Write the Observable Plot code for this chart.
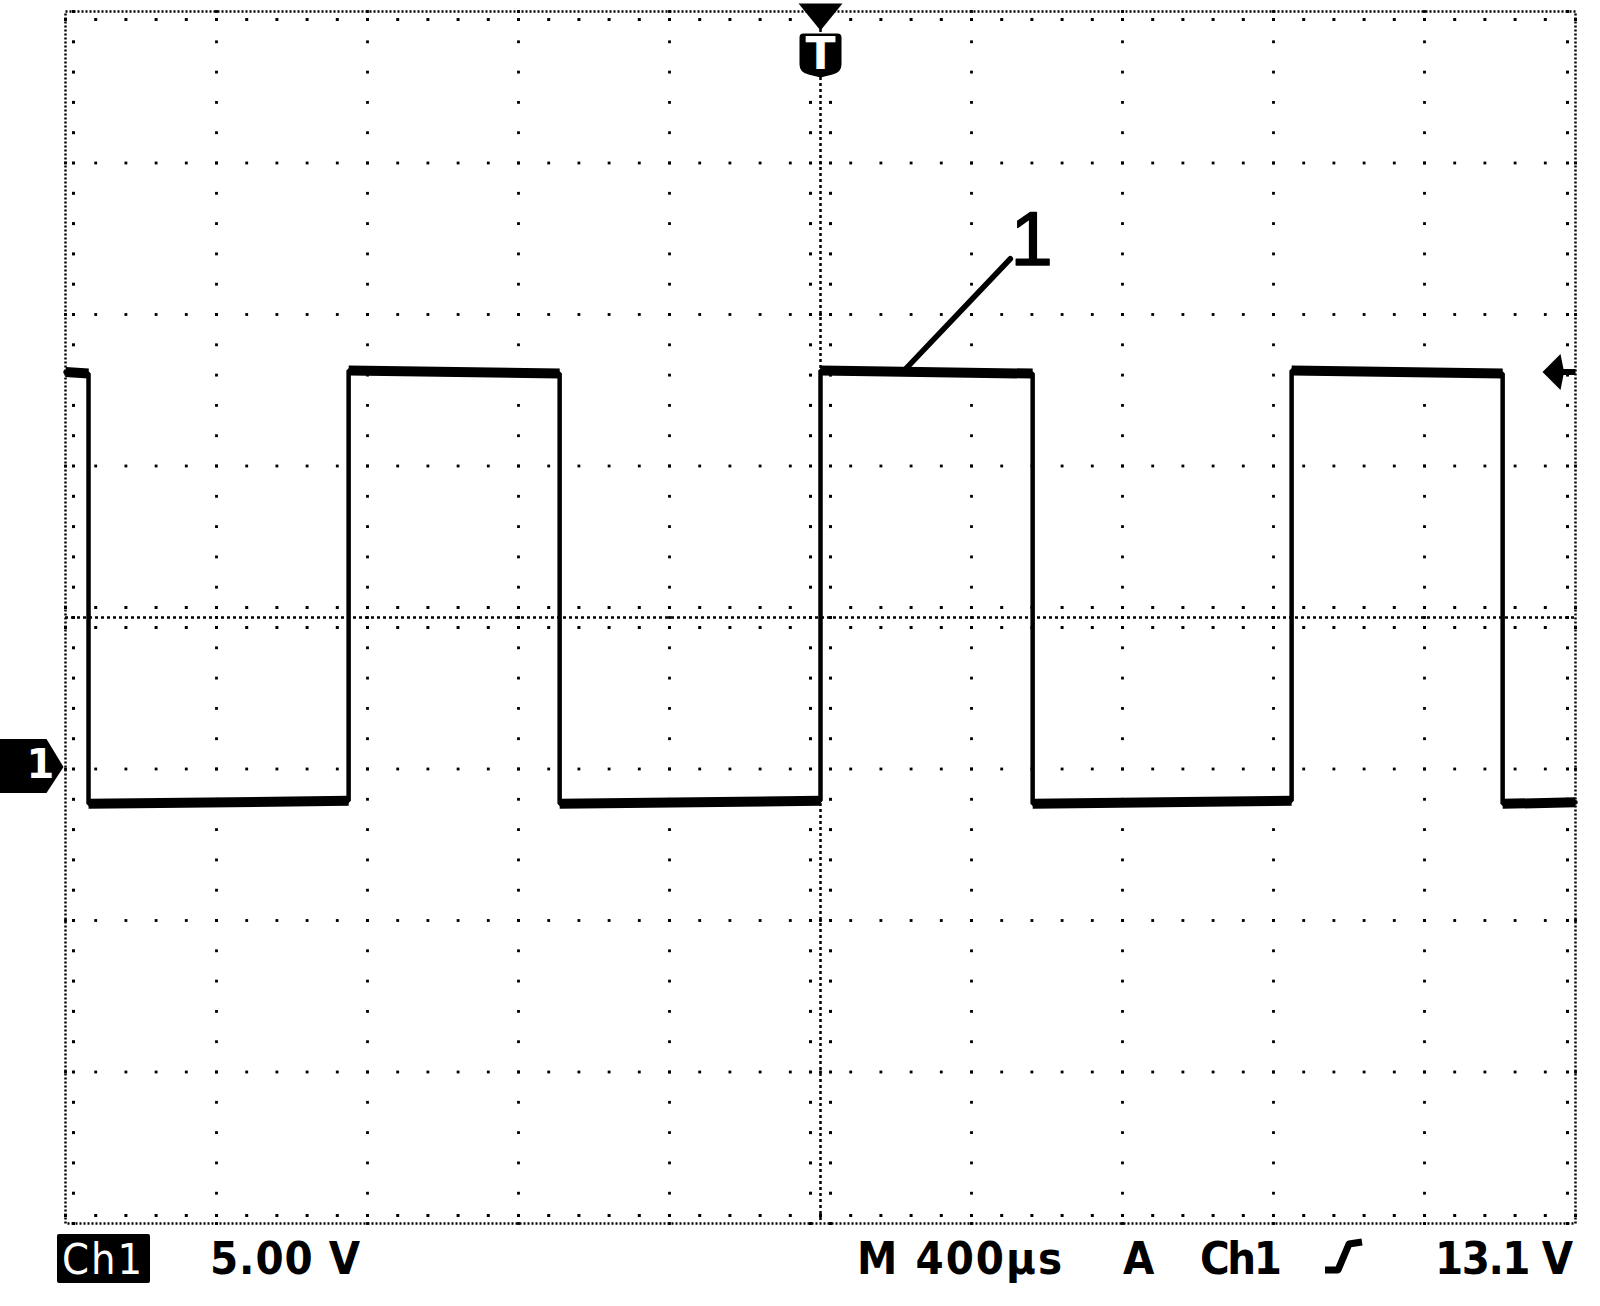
<!DOCTYPE html>
<html>
<head>
<meta charset="utf-8">
<script src="https://cdn.jsdelivr.net/npm/d3@7"></script>
<script src="https://cdn.jsdelivr.net/npm/@observablehq/plot@0.6"></script>
<style>
  html, body { margin: 0; padding: 0; background: #fff; }
  #wrap { position: relative; width: 1600px; height: 1306px; overflow: hidden; background: #fff; }
  #wrap svg { display: block; }
</style>
</head>
<body>
<div id="wrap"></div>
<script>
// ---- Data ----
// time in µs (400 µs/div, trigger at 0), voltage in V (5.00 V/div, ground marker at 0 V)
const traceT = [-2000, -1939, -1939, -1250, -1250, -691, -691, 0, 0, 562, 562, 1248, 1248, 1807, 1807, 2000];
const traceV = [13.1, 13.05, -1.15, -1.05, 13.15, 13.05, -1.15, -1.05, 13.15, 13.05, -1.15, -1.05, 13.15, 13.05, -1.15, -1.1];

const triggerLevel = [13.1];   // V
const triggerTime = [0];       // µs
const groundLevel = [0];       // V

// callout "1" with leader line
const calloutLabel = ["1"];
const calloutFromT = [225], calloutFromV = [13.2];
const calloutToT = [503], calloutToV = [16.84];
const calloutTextT = [559], calloutTextV = [17.44];

// status-bar texts
const statusTexts = ["5.00 V", "M 400µs", "A", "Ch1", "13.1 V"];
const channelLabel = "Ch1";

// ---- Scale structure ----
const xDomain = [-2000, 2000], yDomain = [-15, 25];
const xDiv = d3.range(-2000, 2001, 400);
const yDiv = d3.range(-15, 26, 5);
const xSub = d3.range(-2000, 2001, 80);
const ySub = d3.range(-15, 25.001, 1);
const xCenter = 0, yCenter = 5;

const trace = traceT.map((t, i) => ({t, v: traceV[i]}));
const levels = [];
for (let i = 0; i + 1 < trace.length; i += 2) levels.push({t0: trace[i].t, v0: trace[i].v, t1: trace[i + 1].t, v1: trace[i + 1].v});

const gridV = [];
for (const x of xDiv) if (x !== xDomain[0] && x !== xDomain[1] && x !== xCenter) for (const y of ySub) gridV.push({x, y});
const gridH = [];
for (const y of yDiv) if (y !== yDomain[0] && y !== yDomain[1] && y !== yCenter) for (const x of xSub) gridH.push({x, y});

const callout = calloutLabel.map((label, i) => ({
  label, t: calloutFromT[i], v: calloutFromV[i], t2: calloutToT[i], v2: calloutToV[i], tx: calloutTextT[i], vx: calloutTextV[i]
}));

// custom symbols (pixel shapes)
const pathSymbol = (cmds) => ({
  draw(ctx) { for (const c of cmds) { if (c[0] === "M") ctx.moveTo(c[1], c[2]); else if (c[0] === "L") ctx.lineTo(c[1], c[2]); else if (c[0] === "Q") ctx.quadraticCurveTo(c[1], c[2], c[3], c[4]); else if (c[0] === "Z") ctx.closePath(); } }
});
const downTriangle = pathSymbol([["M", -22, -8], ["L", 22, -8], ["L", 0, 19], ["Z"]]);
const shield = pathSymbol([["M", -21, 26], ["Q", -21, 22, -17, 22], ["L", 17, 22], ["Q", 21, 22, 21, 26], ["L", 21, 53], ["Q", 21, 61, 12, 63], ["L", 0, 66], ["L", -12, 63], ["Q", -21, 61, -21, 53], ["Z"]]);
const leftArrow = pathSymbol([["M", -33, 0], ["L", -15, -18], ["L", -12, -3], ["L", 0, -3], ["L", 0, 3], ["L", -12, 3], ["L", -15, 18], ["Z"]]);
const pentagon = pathSymbol([["M", -2, -2], ["L", -19, -30], ["L", -70, -30], ["L", -70, 24], ["L", -19, 24], ["Z"]]);

const plot = Plot.plot({
  width: 1600,
  height: 1230,
  marginLeft: 65,
  marginRight: 25,
  marginTop: 11,
  marginBottom: 7,
  x: {domain: xDomain, axis: null},
  y: {domain: yDomain, axis: null},
  style: {background: "white", overflow: "visible"},
  marks: [
    // grid dots
    Plot.dot(gridV, {x: "x", y: "y", r: 1.6, symbol: "square", fill: "black"}),
    Plot.dot(gridH, {x: "x", y: "y", r: 1.6, symbol: "square", fill: "black"}),
    // center crosshair
    Plot.ruleX([xCenter], {stroke: "black", strokeWidth: 2.5, strokeDasharray: "3,3"}),
    Plot.ruleY([yCenter], {stroke: "black", strokeWidth: 2.5, strokeDasharray: "3,3"}),
    Plot.dot(ySub, {x: () => xCenter, y: d => d, dx: -10, r: 1.7, symbol: "square", fill: "black"}),
    Plot.dot(ySub, {x: () => xCenter, y: d => d, dx: 10, r: 1.7, symbol: "square", fill: "black"}),
    Plot.dot(xSub, {x: d => d, y: () => yCenter, dy: -10, r: 1.7, symbol: "square", fill: "black"}),
    Plot.dot(xSub, {x: d => d, y: () => yCenter, dy: 10, r: 1.7, symbol: "square", fill: "black"}),
    // frame + inward ticks
    Plot.frame({stroke: "black", strokeWidth: 2.5, strokeDasharray: "2,2"}),
    Plot.dot(ySub, {y: d => d, frameAnchor: "left", dx: 8, r: 1.7, symbol: "square", fill: "black"}),
    Plot.dot(ySub, {y: d => d, frameAnchor: "right", dx: -8, r: 1.7, symbol: "square", fill: "black"}),
    Plot.dot(xSub, {x: d => d, frameAnchor: "top", dy: 8, r: 1.7, symbol: "square", fill: "black"}),
    Plot.dot(xSub, {x: d => d, frameAnchor: "bottom", dy: -8, r: 1.7, symbol: "square", fill: "black"}),
    // signal trace
    Plot.line(trace, {x: "t", y: "v", stroke: "black", strokeWidth: 4.5, strokeLinejoin: "miter"}),
    Plot.link(levels, {x1: "t0", y1: "v0", x2: "t1", y2: "v1", stroke: "black", strokeWidth: 10, strokeLinecap: "butt"}),
    // callout
    Plot.link(callout, {x1: "t", y1: "v", x2: "t2", y2: "v2", stroke: "black", strokeWidth: 5.5, strokeLinecap: "round"}),
    Plot.text(callout, {x: "tx", y: "vx", text: "label", fontSize: 76, fontFamily: "Liberation Sans, Arial, sans-serif", fill: "black", stroke: "black", strokeWidth: 1.5}),
    // trigger time marker (T)
    Plot.dot(triggerTime, {x: d => d, frameAnchor: "top", r: 10, symbol: downTriangle, fill: "black", stroke: "none"}),
    Plot.dot(triggerTime, {x: d => d, frameAnchor: "top", r: 10, symbol: shield, fill: "black", stroke: "none"}),
    Plot.text(triggerTime, {x: d => d, frameAnchor: "top", lineAnchor: "middle", dy: 43, text: () => "T", fill: "white", fontSize: 44, fontWeight: "bold", fontFamily: "DejaVu Sans, sans-serif"}),
    // trigger level arrow (right)
    Plot.dot(triggerLevel, {y: d => d, frameAnchor: "right", r: 10, symbol: leftArrow, fill: "black", stroke: "none"}),
    // channel 1 ground marker (left)
    Plot.dot(groundLevel, {y: d => d, frameAnchor: "left", r: 10, symbol: pentagon, fill: "black", stroke: "none"}),
    Plot.text(groundLevel, {y: d => d, frameAnchor: "left", lineAnchor: "middle", dx: -39, dy: -4, text: () => "1", fill: "white", fontSize: 40, fontWeight: "bold", fontFamily: "DejaVu Sans, sans-serif"})
  ]
});
document.getElementById("wrap").appendChild(plot);

// ---- status bar below the graticule ----
const ns = "http://www.w3.org/2000/svg";
const bar = document.createElementNS(ns, "svg");
bar.setAttribute("width", 1600);
bar.setAttribute("height", 76);
bar.setAttribute("viewBox", "0 0 1600 76");
const baseY = 44;
function addText(str, x, len, opts = {}) {
  const t = document.createElementNS(ns, "text");
  t.setAttribute("x", x);
  t.setAttribute("y", baseY);
  t.setAttribute("font-family", "'DejaVu Sans Condensed', 'DejaVu Sans', sans-serif");
  t.setAttribute("font-stretch", "condensed");
  t.setAttribute("font-size", opts.size || 45);
  t.setAttribute("font-weight", opts.weight || "bold");
  t.setAttribute("fill", opts.fill || "black");
  t.setAttribute("textLength", len);
  t.setAttribute("lengthAdjust", "spacing");
  t.textContent = str;
  bar.appendChild(t);
}
const box = document.createElementNS(ns, "rect");
box.setAttribute("x", 57); box.setAttribute("y", 4); box.setAttribute("width", 93); box.setAttribute("height", 49);
box.setAttribute("rx", 2); box.setAttribute("fill", "black");
bar.appendChild(box);
addText(channelLabel, 62, 80, {fill: "white", weight: "normal", size: 43});
addText(statusTexts[0], 210, 150);
addText(statusTexts[1], 857, 205);
addText(statusTexts[2], 1123, 34);
addText(statusTexts[3], 1200, 82);
addText(statusTexts[4], 1435, 138);
// rising-edge trigger slope symbol
const slope = document.createElementNS(ns, "path");
slope.setAttribute("d", "M1325,40 L1338,40 L1349,14 L1362,12");
slope.setAttribute("fill", "none");
slope.setAttribute("stroke", "black");
slope.setAttribute("stroke-width", 7);
slope.setAttribute("stroke-linejoin", "round");
bar.appendChild(slope);
document.getElementById("wrap").appendChild(bar);
</script>
</body>
</html>
